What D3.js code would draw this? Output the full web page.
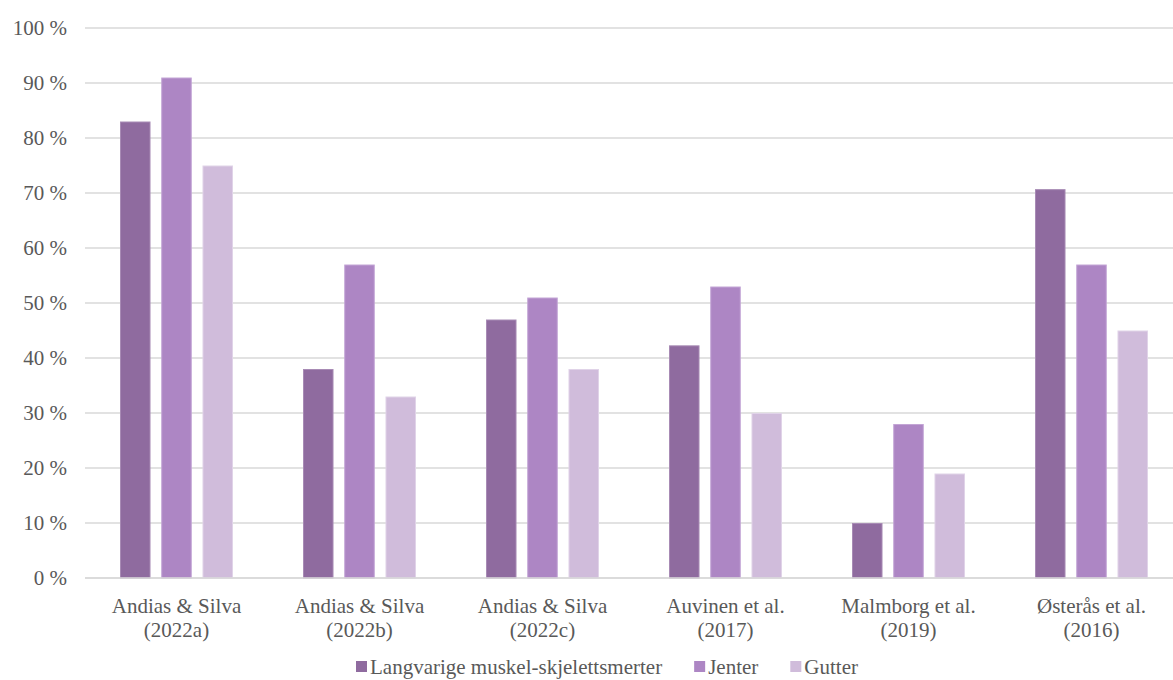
<!DOCTYPE html>
<html><head><meta charset="utf-8">
<script src="https://cdn.jsdelivr.net/npm/d3@7"></script>
<style>body{margin:0;background:#fff}</style>
</head><body><svg id="c" width="1173" height="680"></svg>
<script>
const categories = [["Andias & Silva","(2022a)"],["Andias & Silva","(2022b)"],["Andias & Silva","(2022c)"],["Auvinen et al.","(2017)"],["Malmborg et al.","(2019)"],["Østerås et al.","(2016)"]];
const seriesNames = ["Langvarige muskel-skjelettsmerter","Jenter","Gutter"];
const langvarige = [83, 38, 47, 42.3, 10, 70.7];
const jenter = [91, 57, 51, 53, 28, 57];
const gutter = [75, 33, 38, 30, 19, 45];
const yTicks = [0,10,20,30,40,50,60,70,80,90,100];
const colors = ["#8F6B9F","#AD86C4","#D0BCDB"];
const strokes = ["#A88BB5","#C3A5D5","#E0D3E8"];

const svg = d3.select("#c");
function width(font, txt, size) {
  const t = svg.append("text").attr("font-family", font).attr("font-size", size || 40).text(txt);
  const w = t.node().getComputedTextLength(); t.remove(); return w;
}
const probe = "Andias & Silva mwil";
const base = width("monospace", probe);
const candidates = ["Liberation Serif", "Times New Roman", "Tinos", "DejaVu Serif", "Noto Serif", "serif"];
let FONT = "serif";
for (const c of candidates) { if (Math.abs(width(`'${c}', monospace`, probe) - base) > 0.5) { FONT = `'${c}', serif`; break; } }
svg.attr("font-family", FONT);
const FS = 21;

const series = [langvarige, jenter, gutter];
const x0 = 85, x1 = 1183, yTop = 28, yBot = 578;
const x = d3.scaleBand().domain(d3.range(categories.length)).range([x0, x1]);
const xi = d3.scaleBand().domain(d3.range(3)).range([0, 113]).paddingInner(0.26);
const y = d3.scaleLinear().domain([0,100]).range([yBot, yTop]);

svg.append("g").selectAll("line").data(yTicks).join("line")
  .attr("x1", x0).attr("x2", 1173).attr("y1", d=>y(d)).attr("y2", d=>y(d))
  .attr("stroke", "#d9d9d9").attr("stroke-width", 1.3);

svg.append("g").selectAll("text").data(yTicks).join("text")
  .attr("x", 67).attr("y", d=>y(d)+7).attr("text-anchor","end")
  .attr("font-family", FONT).attr("fill","#595959")
  .attr("font-size", FS).text(d=>d+" %");

series.forEach((vals, s) => {
  svg.append("g").selectAll("rect").data(vals).join("rect")
    .attr("x", (d,i)=> x(i) + x.bandwidth()/2 - 56.5 + xi(s) + 0.5)
    .attr("width", xi.bandwidth() - 1)
    .attr("y", d=>y(d) + 0.5)
    .attr("height", d=> yBot - y(d) - 0.5)
    .attr("fill", colors[s]).attr("stroke", strokes[s]).attr("stroke-width", 1);
});

svg.append("line").attr("x1", x0).attr("x2", 1173).attr("y1", yBot).attr("y2", yBot)
  .attr("stroke", "#d9d9d9").attr("stroke-width", 1.5);

const lab = svg.append("g").selectAll("text").data(categories).join("text")
  .attr("text-anchor","middle").attr("font-size", FS)
  .attr("font-family", FONT).attr("fill","#595959");
lab.append("tspan").attr("x",(d,i)=>x(i)+x.bandwidth()/2).attr("y",613).text(d=>d[0]);
lab.append("tspan").attr("x",(d,i)=>x(i)+x.bandwidth()/2).attr("y",637).text(d=>d[1]);

let lx = 356;
seriesNames.forEach((name, i) => {
  svg.append("rect").attr("x", lx).attr("y", 661).attr("width", 11).attr("height", 11).attr("fill", colors[i]);
  const t = svg.append("text").attr("x", lx + 14).attr("y", 674).attr("font-size", FS)
    .attr("font-family", FONT).attr("fill", "#595959").text(name);
  lx += 14 + t.node().getComputedTextLength() + 32;
});
</script></body></html>
